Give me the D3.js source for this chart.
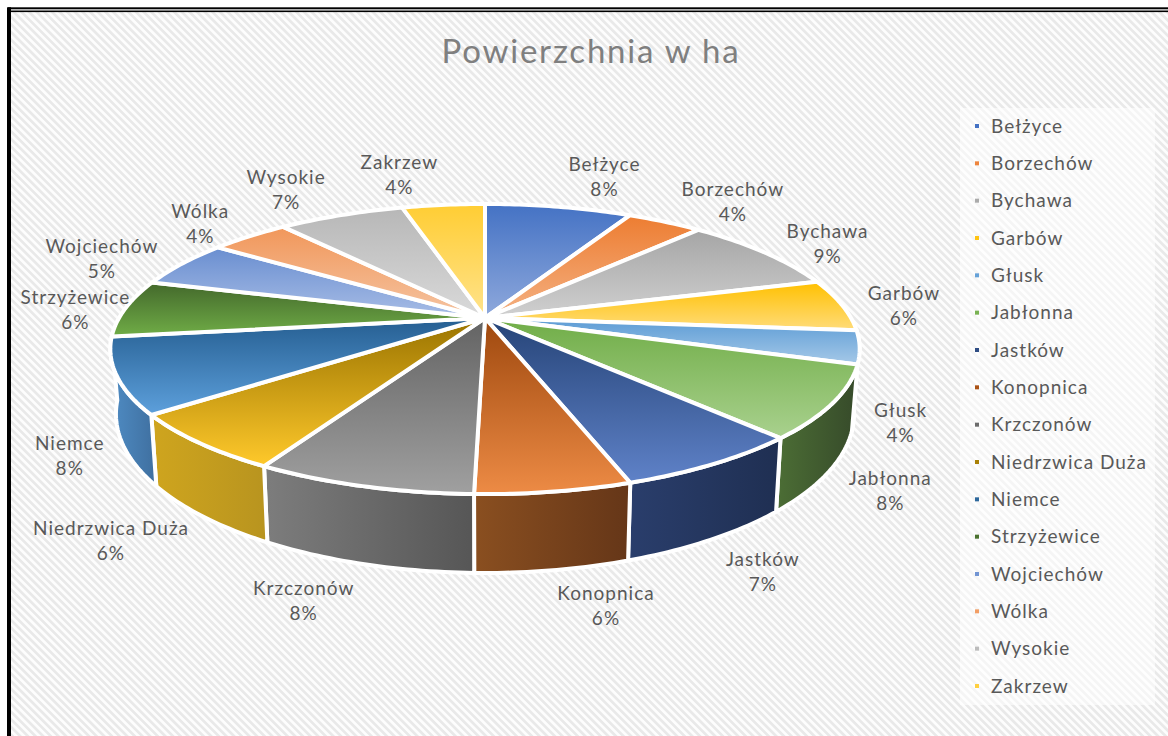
<!DOCTYPE html>
<html><head><meta charset="utf-8">
<script src="https://cdn.jsdelivr.net/npm/d3@7/dist/d3.min.js"></script>
<style>html,body{margin:0;padding:0;background:#fff;overflow:hidden}svg{display:block}
text{font-family:Lato,"Open Sans",sans-serif;fill:#595959}</style></head>
<body><div id="chart"></div>
<script>
const categories=["Bełżyce","Borzechów","Bychawa","Garbów","Głusk","Jabłonna","Jastków","Konopnica","Krzczonów","Niedrzwica Duża","Niemce","Strzyżewice","Wojciechów","Wólka","Wysokie","Zakrzew"];
const values=[7.8,4.0,8.75,5.85,3.7,8.0,6.8,5.5,7.8,6.4,8.35,6.45,5.35,4.2,6.7,4.4];
const percentLabels=["8%","4%","9%","6%","4%","8%","7%","6%","8%","6%","8%","6%","5%","4%","7%","4%"];
const topDark=["#4472c4","#ed7d31","#a5a5a5","#ffc000","#5b9bd5","#70ad47","#264478","#9e480e","#636363","#997300","#255e91","#43682b","#698ed0","#f1975a","#b7b7b7","#ffcd33"];
const topLight=["#8fa9dc","#f4b183","#d0d0d0","#ffdc7a","#a6c9e8","#a9d18e","#5f82c8","#ed8b45","#a0a0a0","#ffc92b","#5da0dc","#70ad47","#a8bde6","#f5c4a2","#dadada","#ffe38c"];
const wallLeft=["#2f5597","#c55a11","#7f7f7f","#bf9000","#4f8cc4","#4c6e35","#2a3e6c","#8a4f20","#7d7d7d","#cfa51e","#4f8cc4","#43682b","#698ed0","#c55a11","#7f7f7f","#bf9000"];
const wallRight=["#2f5597","#c55a11","#7f7f7f","#bf9000","#3f6f9f","#364a2a","#1f2f52","#653618","#565656","#b8941f","#3f6f9f","#43682b","#698ed0","#c55a11","#7f7f7f","#bf9000"];
const labelNudge=[[46,-30],[68,-20],[63,-8],[62,1],[41,76],[57,88],[49,108],[52,114],[-59,115],[-88,98],[-47,80],[-50,2],[-80,-5],[-49,-12],[-55,-25],[-44,-30]];
const title="Powierzchnia w ha";

const W=1168,H=736;
const svg=d3.select("#chart").append("svg").attr("width",W).attr("height",H);
const defs=svg.append("defs");
const hatch=defs.append("pattern").attr("id","hatch").attr("patternUnits","userSpaceOnUse")
 .attr("width",5.4).attr("height",5.4).attr("patternTransform","rotate(-45)");
hatch.append("rect").attr("width",5.4).attr("height",5.4).attr("fill","#fdfdfd");
hatch.append("rect").attr("width",2.7).attr("height",5.4).attr("fill","#e9e9e9");

svg.append("rect").attr("x",11).attr("y",12).attr("width",W-11).attr("height",H-12).attr("fill","url(#hatch)");
svg.append("rect").attr("x",8).attr("y",7.3).attr("width",W-8).attr("height",2).attr("fill","#000");
svg.append("rect").attr("x",7).attr("y",10.5).attr("width",W-7).attr("height",1.6).attr("fill","#000");
svg.append("rect").attr("x",7).attr("y",7.3).attr("width",4).attr("height",H-7).attr("fill","#000");

// perspective disc
const cx=485,cy=318,p=0.214,k=138.4,R=366,depth=62,shrink=0.985;
const proj=a=>{const u=Math.sin(a),v=-Math.cos(a),w=1-p*v;return [cx+R*u/w,cy+k*v/w,w];};
const low=a=>{const q=proj(a);return [cx+(q[0]-cx)*shrink,q[1]+depth/q[2]];};
const arcs=d3.pie().sort(null).value(d=>d)(values);
const samples=d=>{const n=Math.max(8,Math.ceil((d.endAngle-d.startAngle)*60));return d3.range(n+1).map(i=>d.startAngle+(d.endAngle-d.startAngle)*i/n);};
const line=d3.line().curve(d3.curveLinear);

arcs.forEach((d,i)=>{
 const t=defs.append("linearGradient").attr("id","t"+i).attr("x1",0).attr("y1",0).attr("x2",0).attr("y2",1);
 t.append("stop").attr("offset",0).attr("stop-color",topDark[i]);
 t.append("stop").attr("offset",1).attr("stop-color",topLight[i]);
 const s=defs.append("linearGradient").attr("id","s"+i).attr("x1",0).attr("y1",0).attr("x2",1).attr("y2",0);
 s.append("stop").attr("offset",0).attr("stop-color",wallLeft[i]);
 s.append("stop").attr("offset",1).attr("stop-color",wallRight[i]);
});

// walls first: only the near side of the disc can show
const walls=svg.append("g");
arcs.forEach((d,i)=>{
 const as=samples(d);
 if(as.every(a=>Math.cos(a)>-0.2))return;
 const pts=as.map(a=>proj(a).slice(0,2)).concat(as.slice().reverse().map(low));
 walls.append("path").attr("d",line(pts)+"Z").attr("fill",`url(#s${i})`)
  .attr("stroke","#fff").attr("stroke-width",4).attr("stroke-linejoin","round");
});
const tops=svg.append("g");
arcs.forEach((d,i)=>{
 const pts=[[cx,cy]].concat(samples(d).map(a=>proj(a).slice(0,2)));
 tops.append("path").attr("d",line(pts)+"Z").attr("fill",`url(#t${i})`)
  .attr("stroke","#fff").attr("stroke-width",4).attr("stroke-linejoin","round");
});

// data labels
const labelFont=19, spacing=1;
arcs.forEach((d,i)=>{
 const m=proj((d.startAngle+d.endAngle)/2);
 const x=m[0]+labelNudge[i][0],y=m[1]+labelNudge[i][1];
 svg.append("text").attr("x",x).attr("y",y-6).attr("text-anchor","middle").attr("font-size",labelFont).attr("letter-spacing",spacing).text(categories[i]);
 svg.append("text").attr("x",x).attr("y",y+19).attr("text-anchor","middle").attr("font-size",labelFont).attr("letter-spacing",spacing).text(percentLabels[i]);
});

// title
svg.append("text").attr("x",591).attr("y",63).attr("text-anchor","middle").attr("font-size",33).attr("letter-spacing",1.8).style("fill","#7f7f7f").text(title);

// legend
const legendY=d3.scalePoint().domain(categories).range([126,686]);
svg.append("rect").attr("x",960).attr("y",108).attr("width",195).attr("height",597).attr("fill","#fff").attr("opacity",0.55);
categories.forEach((c,i)=>{
 const y=legendY(c);
 svg.append("rect").attr("x",975).attr("y",y-2).attr("width",4).attr("height",4).attr("fill",i===0?"#4472c4":d3.interpolateRgb(topDark[i],topLight[i])(0.15));
 svg.append("text").attr("x",991).attr("y",y+6.5).attr("font-size",labelFont).attr("letter-spacing",spacing).text(c);
});
</script></body></html>
